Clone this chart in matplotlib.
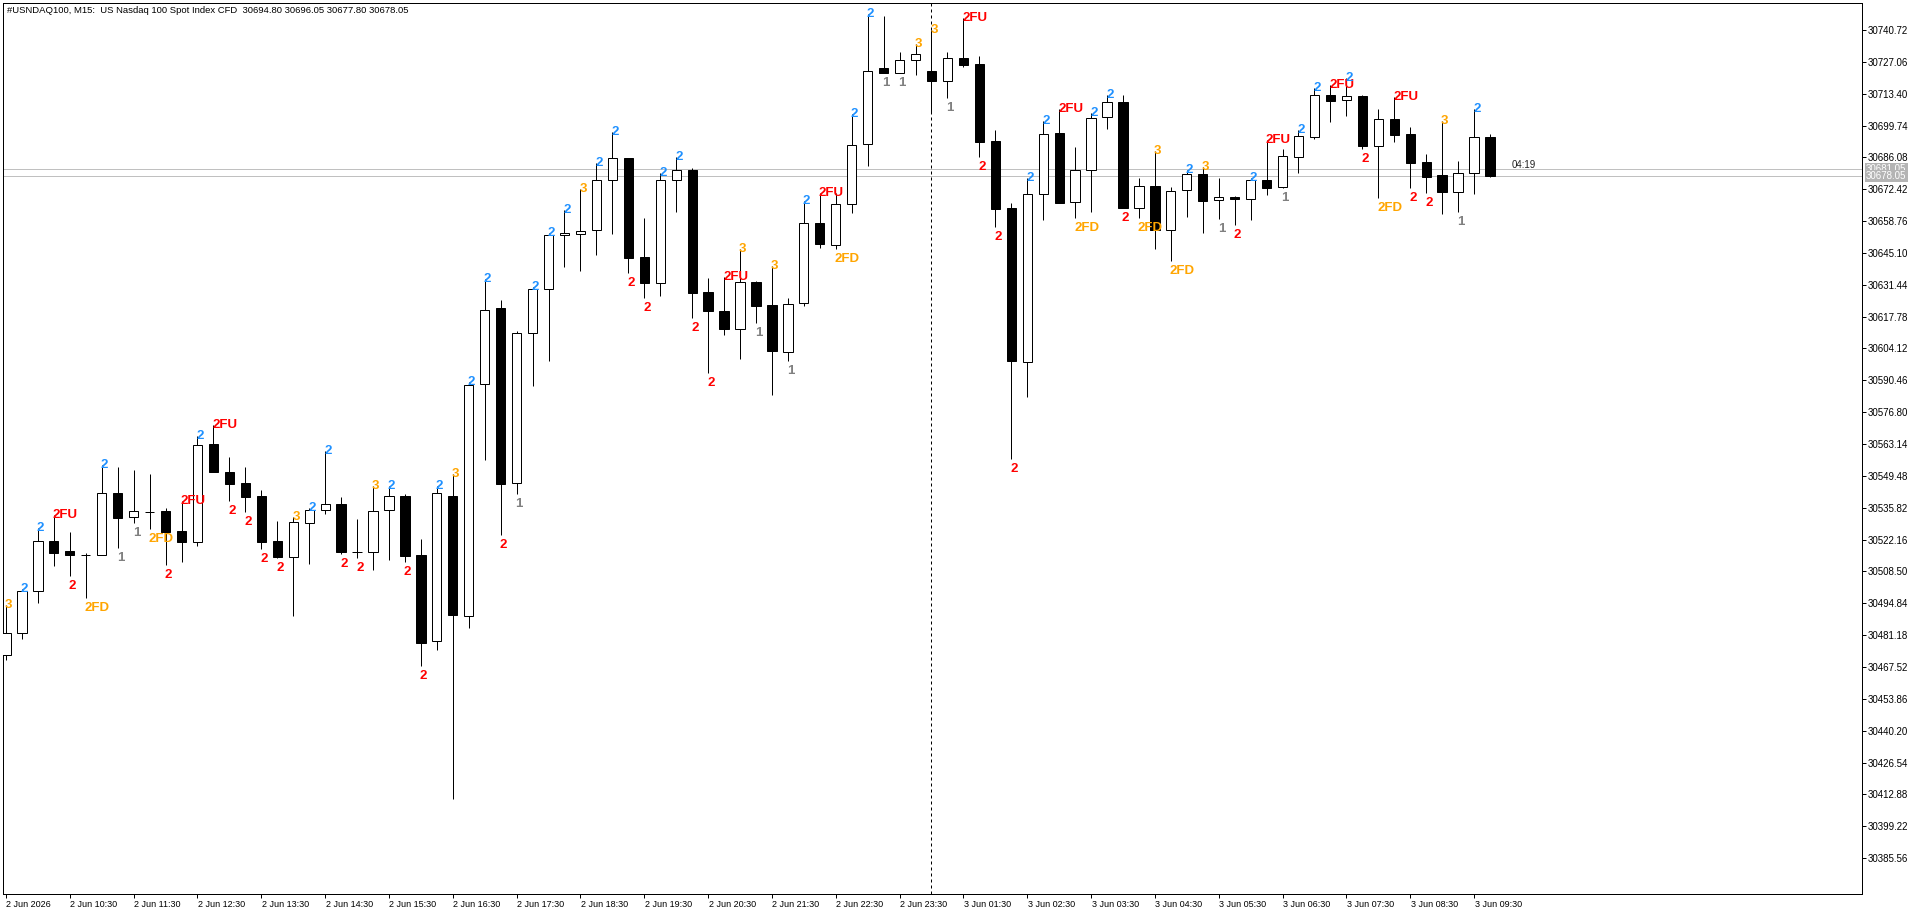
import matplotlib
matplotlib.use("Agg")
import matplotlib.pyplot as plt
import matplotlib.transforms as mtransforms

# 2 Jun 09:30 .. 3 Jun 09:45, M15 bars
opens = [30472.66, 30481.97, 30499.98, 30521.43, 30517.27, 30515.55, 30515.42, 30542.02, 30531.72, 30534.13,
         30534.42, 30525.85, 30521.26, 30563.29, 30551.15, 30546.43, 30540.86, 30521.56, 30514.57, 30529.45,
         30534.68, 30537.30, 30516.70, 30516.63, 30534.68, 30540.69, 30515.38, 30478.50, 30540.69, 30489.22,
         30588.76, 30621.53, 30546.35, 30610.68, 30629.51, 30652.67, 30653.10, 30654.81, 30676.26, 30685.69,
         30643.36, 30632.34, 30676.26, 30680.55, 30628.22, 30620.07, 30612.35, 30632.51, 30622.65, 30602.49,
         30623.50, 30657.82, 30648.38, 30665.97, 30691.70, 30724.29, 30722.41, 30727.72, 30723.14, 30718.72,
         30728.58, 30726.14, 30693.11, 30664.38, 30598.46, 30670.25, 30696.42, 30667.08, 30680.55, 30703.28,
         30709.71, 30664.25, 30673.73, 30655.07, 30671.97, 30678.83, 30667.68, 30669.10, 30668.11, 30676.39,
         30673.26, 30686.38, 30694.96, 30712.84, 30710.57, 30712.41, 30691.10, 30702.42, 30696.12, 30683.98,
         30678.40, 30671.37, 30679.52, 30694.80]
highs = [30494.11, 30500.97, 30527.26, 30532.71, 30525.29, 30516.54, 30554.15, 30553.17, 30552.01, 30550.29,
         30535.58, 30538.71, 30566.72, 30571.31, 30557.58, 30553.30, 30543.56, 30530.14, 30531.72, 30535.84,
         30560.11, 30540.39, 30531.04, 30545.28, 30544.98, 30541.59, 30522.46, 30545.28, 30550.16, 30589.71,
         30634.10, 30624.92, 30611.45, 30630.50, 30653.66, 30663.52, 30672.53, 30683.55, 30696.84, 30685.69,
         30659.96, 30679.26, 30686.38, 30681.40, 30634.23, 30634.91, 30646.67, 30632.94, 30639.50, 30625.65,
         30667.38, 30670.94, 30670.68, 30704.69, 30747.45, 30746.90, 30731.16, 30734.59, 30740.72, 30731.16,
         30745.74, 30729.57, 30697.83, 30666.39, 30677.12, 30701.82, 30706.71, 30690.41, 30704.99, 30712.84,
         30712.84, 30677.37, 30688.82, 30673.38, 30680.68, 30682.09, 30677.24, 30669.52, 30677.12, 30693.54,
         30689.68, 30697.83, 30715.72, 30717.13, 30720.00, 30712.97, 30706.71, 30712.11, 30698.99, 30687.41,
         30701.69, 30684.54, 30706.71, 30696.05]
lows = [30470.52, 30479.65, 30494.84, 30510.97, 30506.68, 30497.24, 30515.42, 30518.69, 30529.41, 30526.83,
        30511.39, 30512.68, 30519.54, 30551.28, 30538.84, 30534.13, 30518.26, 30514.27, 30489.52, 30511.69,
        30533.31, 30515.86, 30514.31, 30508.95, 30513.58, 30512.51, 30468.08, 30474.64, 30410.95, 30484.29,
        30556.47, 30524.30, 30541.89, 30588.16, 30598.89, 30639.20, 30637.49, 30644.35, 30653.36, 30636.63,
        30625.91, 30626.76, 30662.79, 30617.33, 30593.48, 30609.78, 30599.49, 30614.93, 30584.09, 30598.89,
        30622.35, 30647.35, 30646.79, 30662.36, 30682.52, 30722.15, 30722.15, 30721.55, 30705.25, 30711.43,
        30724.98, 30686.38, 30656.36, 30556.60, 30583.45, 30659.23, 30666.65, 30659.96, 30662.79, 30698.13,
        30664.25, 30660.22, 30646.58, 30641.77, 30660.65, 30653.78, 30659.79, 30657.22, 30659.23, 30670.08,
        30672.96, 30679.52, 30694.10, 30701.39, 30703.96, 30689.68, 30668.54, 30692.81, 30672.83, 30670.68,
        30661.68, 30662.79, 30670.25, 30677.80]
closes = [30481.97, 30499.98, 30521.43, 30516.54, 30515.42, 30515.55, 30542.02, 30531.55, 30534.30, 30534.13,
          30525.42, 30521.26, 30562.73, 30551.28, 30546.13, 30540.56, 30521.26, 30514.82, 30529.58, 30534.72,
          30537.30, 30516.63, 30516.63, 30534.25, 30540.69, 30515.25, 30477.73, 30542.06, 30489.65, 30588.29,
          30620.46, 30546.18, 30610.68, 30629.51, 30652.67, 30653.53, 30654.39, 30676.26, 30685.69, 30643.06,
          30632.34, 30676.26, 30680.55, 30628.05, 30620.33, 30612.35, 30632.51, 30622.48, 30603.26, 30623.08,
          30657.82, 30648.81, 30665.97, 30691.27, 30723.14, 30722.41, 30727.72, 30730.30, 30718.72, 30728.58,
          30725.84, 30692.47, 30664.08, 30598.89, 30670.25, 30695.99, 30666.65, 30680.55, 30703.11, 30709.71,
          30664.25, 30673.60, 30655.03, 30671.54, 30678.83, 30667.51, 30669.10, 30668.11, 30676.26, 30673.08,
          30686.55, 30695.13, 30712.84, 30710.40, 30712.28, 30691.10, 30702.42, 30695.82, 30683.81, 30677.80,
          30671.37, 30679.26, 30694.70, 30678.05]

# bar type marks: 1 inside, 2U/2D directional, 3 outside, 2FU/2FD failed
signals = ["3", "2U", "2U", "2FU", "2D", "2FD", "2U", "1", "1", "2FD",
           "2D", "2FU", "2U", "2FU", "2D", "2D", "2D", "2D", "3", "2U",
           "2U", "2D", "2D", "3", "2U", "2D", "2D", "2U", "3", "2U",
           "2U", "2D", "1", "2U", "2U", "2U", "3", "2U", "2U", "2D",
           "2D", "2U", "2U", "2D", "2D", "2FU", "3", "1", "3", "1",
           "2U", "2FU", "2FD", "2U", "2U", "1", "1", "3", "3", "1",
           "2FU", "2D", "2D", "2D", "2U", "2U", "2FU", "2FD", "2U", "2U",
           "2D", "2FD", "3", "2FD", "2U", "3", "1", "2D", "2U", "2FU",
           "1", "2U", "2U", "2FU", "2U", "2D", "2FD", "2FU", "2D", "2D",
           "3", "1", "2U", None]

time_labels = ["2 Jun 2026", "2 Jun 10:30", "2 Jun 11:30", "2 Jun 12:30", "2 Jun 13:30", "2 Jun 14:30",
               "2 Jun 15:30", "2 Jun 16:30", "2 Jun 17:30", "2 Jun 18:30", "2 Jun 19:30", "2 Jun 20:30",
               "2 Jun 21:30", "2 Jun 22:30", "2 Jun 23:30", "3 Jun 01:30", "3 Jun 02:30", "3 Jun 03:30",
               "3 Jun 04:30", "3 Jun 05:30", "3 Jun 06:30", "3 Jun 07:30", "3 Jun 08:30", "3 Jun 09:30"]

price_ticks = [30740.72, 30727.06, 30713.40, 30699.74, 30686.08, 30672.42, 30658.76, 30645.10, 30631.44,
               30617.78, 30604.12, 30590.46, 30576.80, 30563.14, 30549.48, 30535.82, 30522.16, 30508.50,
               30494.84, 30481.18, 30467.52, 30453.86, 30440.20, 30426.54, 30412.88, 30399.22, 30385.56]

ask_price = 30681.05
bid_price = 30678.05
new_day_bar = 58
time_left = "04:19"
header = "#USNDAQ100, M15:  US Nasdaq 100 Spot Index CFD  30694.80 30696.05 30677.80 30678.05"

STYLE = {
    "1": ("1", "#808080", "low"),
    "2U": ("2", "#1E90FF", "high"),
    "2D": ("2", "#FF0000", "low"),
    "3": ("3", "#FFA500", "high"),
    "2FU": ("2FU", "#FF0000", "high"),
    "2FD": ("2FD", "#FFA500", "low"),
}

W, H = 1920, 915
PX = 0.72  # one pixel in points at dpi 100
plt.rcParams["font.family"] = ["Liberation Sans", "DejaVu Sans"]

fig = plt.figure(figsize=(W / 100, H / 100), dpi=100)
left, right, top, bottom = 2.7, 1862, 2.7, 894
ax = fig.add_axes([left / W, 1 - bottom / H, (right - left) / W, (bottom - top) / H])

n = len(opens)
xs = list(range(n))

# wicks
ax.vlines(xs, lows, highs, color="black", linewidth=PX, zorder=2)
# bodies
for i in xs:
    o, c = opens[i], closes[i]
    up = c >= o
    ax.bar(i, abs(c - o), bottom=min(o, c), width=0.58,
           color="white" if up else "black", edgecolor="black",
           linewidth=PX, zorder=3)

# bar marks
for i, code in enumerate(signals):
    if code is None:
        continue
    text, col, where = STYLE[code]
    if where == "high":
        ax.annotate(text, xy=(i, highs[i]), xytext=(-1, -3), textcoords="offset pixels",
                    ha="left", va="baseline", color=col, fontsize=9.5, fontweight="bold", zorder=5)
    else:
        ax.annotate(text, xy=(i, lows[i]), xytext=(-1, -4), textcoords="offset pixels",
                    ha="left", va="top", color=col, fontsize=9.5, fontweight="bold", zorder=5)

# price lines and day separator
ax.axhline(ask_price, color="#C0C0C0", linewidth=PX, zorder=1)
ax.axhline(bid_price, color="#C0C0C0", linewidth=PX, zorder=1)
ax.axvline(new_day_bar, color="black", linewidth=PX, linestyle=(0, (3, 3)), zorder=1)

ax.annotate(time_left, xy=(n - 1, ask_price), xytext=(22, 1), textcoords="offset pixels",
            ha="left", va="baseline", fontsize=7, color="#202020")

# axes limits (bar spacing ~16 px)
step = 15.98
ax.set_xlim(-3.3 / step, (right - left - 0.6) / step)
ppu = 2.3316
ax.set_ylim(30740.72 - (bottom - 30) / ppu, 30740.72 + (30 - top) / ppu)

for s in ax.spines.values():
    s.set_linewidth(PX)
    s.set_color("black")

ax.yaxis.tick_right()
ax.set_yticks(price_ticks)
ax.set_yticklabels(["%.2f" % p for p in price_ticks])
ax.tick_params(axis="y", direction="out", length=4 * PX, width=PX, labelsize=7, pad=1)

ax.set_xticks(xs[::4])
ax.set_xticklabels(time_labels, ha="left")
ax.tick_params(axis="x", direction="out", length=4 * PX, width=PX, labelsize=6.5, pad=1.5)
shift = mtransforms.ScaledTranslation(0.5 / 100, 0, fig.dpi_scale_trans)
for lab in ax.get_xticklabels():
    lab.set_transform(lab.get_transform() + shift)

# current price tags on the price scale
ytr = ax.get_yaxis_transform()
for p in (ask_price, bid_price):
    ax.annotate("%.2f" % p, xy=(1, p), xycoords=ytr, xytext=(4, 0), textcoords="offset pixels",
                ha="left", va="center", fontsize=7, color="white", annotation_clip=False,
                bbox=dict(boxstyle="square,pad=0.12", facecolor="#B4B4B4", edgecolor="none"))

fig.text(7 / W, 1 - 10.5 / H, header, ha="left", va="center", fontsize=6.8, color="black")

fig.savefig("out.png", dpi=100, facecolor="white")
